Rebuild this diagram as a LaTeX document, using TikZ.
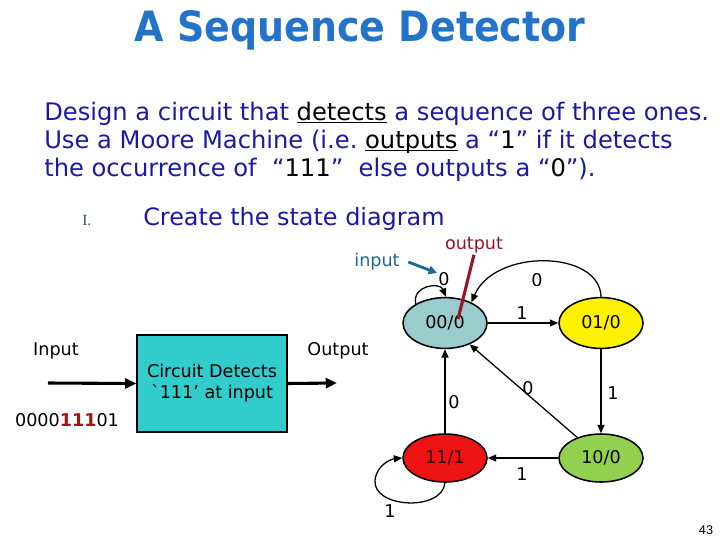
\documentclass[tikz,border=0pt]{standalone}
\usepackage{fontspec}
\setmainfont{DejaVu Sans}
\newfontfamily\serifone{Liberation Serif}
\newfontfamily\pagefont{Liberation Sans}
\usetikzlibrary{shapes.geometric,arrows.meta}

\definecolor{titleblue}{RGB}{35,115,200}
\definecolor{textblue}{RGB}{25,25,165}
\definecolor{inteal}{RGB}{25,105,145}
\definecolor{outred}{RGB}{150,20,35}
\definecolor{grayteal}{RGB}{153,204,204}
\definecolor{boxteal}{RGB}{51,204,204}
\definecolor{stgreen}{RGB}{146,208,80}
\definecolor{stred}{RGB}{238,20,20}
\definecolor{romgreen}{RGB}{40,85,70}
\definecolor{bitred}{RGB}{160,20,20}

% underline close to the baseline
\newcommand\ulword[1]{\setbox0\hbox{#1}\rlap{\rule[-2.3pt]{\wd0}{0.9pt}}\box0}

\begin{document}
\begin{tikzpicture}[x=0.025cm, y=-0.025cm,
  ttl/.style={font=\fontsize{27}{30}\selectfont\bfseries, anchor=base, inner sep=0pt},
  body/.style={font=\fontsize{17.2}{20}\selectfont, text=textblue, anchor=base west, inner sep=0pt},
  small/.style={font=\fontsize{12.5}{15}\selectfont},
  fsm/.style={draw, ellipse, line width=1.1pt, minimum width=2.1cm, minimum height=1.27cm, inner sep=0pt, font=\fontsize{12.5}{15}\selectfont},
  edge/.style={line width=0.9pt, -{Triangle[length=6pt,width=5pt]}},
  fat/.style={line width=2.2pt, -{Triangle[length=8pt,width=7pt]}}]

\useasboundingbox (0,0) rectangle (720,540);

% title
\node[ttl, text=titleblue, yscale=1.1] (ttlmain) at (360,41) {A Sequence Detector};

% problem text
\node[body] (line1) at (44,120) {Design a circuit that {\color{black}\ulword{detects}} a sequence of three ones.};
\node[body] (line2) at (44,148) {Use a Moore Machine (i.e.\ {\color{black}\ulword{outputs}} a “{\color{black}1}” if it detects};
\node[body] (line3) at (44,176) {the occurrence of \ “{\color{black}111}” \ else outputs a “{\color{black}0}”).};

\node[font=\serifone\fontsize{11}{13}\selectfont, text=romgreen, anchor=base west, inner sep=0pt] (numI) at (82,225) {I.};
\node[body, font=\fontsize{17}{20}\selectfont] (step1) at (143,225) {Create the state diagram};

% block diagram
\node[draw, rectangle, line width=1.3pt, fill=boxteal, minimum width=3.73cm, minimum height=2.42cm, inner sep=0pt, align=center, small] (cd) at (212,383.5) {Circuit Detects\\\textasciigrave111’ at input};
\node[small] (inname) at (56,351) {Input};
\node[small] (outname) at (338,351) {Output};
\node[small] (bits) at (67,420) {0000{\bfseries\color{bitred}111}01};
\coordinate (inpt) at (48,383);
\coordinate (outpt) at (337,383);
\draw[fat] (inpt) -- (cd.west);
\draw[fat] (cd.east) -- (outpt);

% states
\node[fsm, fill=grayteal] (s00) at (445,323) {00/0};
\node[fsm, fill=yellow] (s01) at (601,323) {01/0};
\node[fsm, fill=stred, text=black!80!red, minimum height=1.2cm] (s11) at (445,458) {11/1};
\node[fsm, fill=stgreen, minimum height=1.2cm] (s10) at (601,458) {10/0};

% transitions
\draw[edge] (s00.147) .. controls (412,285) and (440,282) .. (s00.88);
\draw[edge] (s01.north) .. controls (600,250) and (495,248) .. (s00.38);
\draw[edge] (s00.east) -- (s01.west);
\draw[edge] (s01.south) -- (s10.north);
\draw[edge] (s10) -- (s00);
\draw[edge] (s11.north) -- (s00.south);
\draw[edge] (s10.west) -- (s11.east);
\draw[edge] (s11.south) .. controls (442,512) and (372,508) .. (375,480) .. controls (377,464) and (392,459) .. (s11.west);

\node[small] (l1) at (444,279) {0};
\node[small] (l2) at (537,280) {0};
\node[small] (l3) at (522,313) {1};
\node[small] (l4) at (613,393) {1};
\node[small] (l5) at (528,388) {0};
\node[small] (l6) at (454,402) {0};
\node[small] (l7) at (522,474) {1};
\node[small] (l8) at (390,511) {1};

% legend arrows
\node[small, text=inteal, inner sep=1pt] (inlbl) at (377,262) {input};
\coordinate (intip) at (437,273);
\draw[line width=2pt, inteal, -{Triangle[length=6pt,width=6pt]}] ([xshift=5pt]inlbl.east) -- (intip);
\node[small, text=outred, inner sep=1pt] (outlbl) at (474,245) {output};
\coordinate (outtip) at (458,319);
\draw[line width=2.2pt, outred] (outlbl.south) -- (outtip);

\node[font=\pagefont\fontsize{9}{11}\selectfont] (pg) at (706,530) {43};
\end{tikzpicture}
\end{document}
